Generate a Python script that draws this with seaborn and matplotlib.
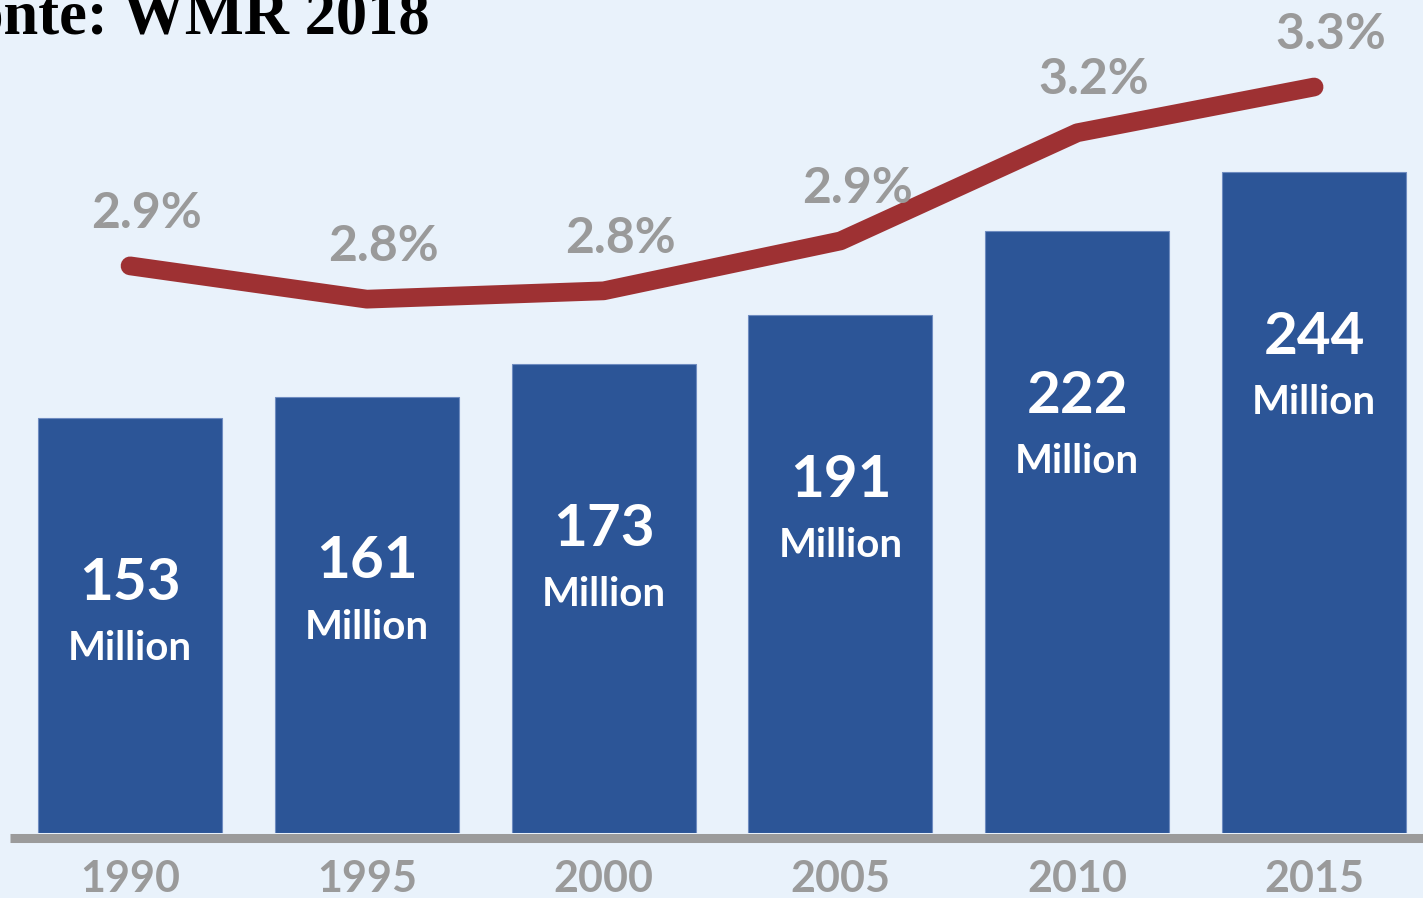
import numpy as np
import pandas as pd
import matplotlib
matplotlib.use("Agg")
import matplotlib.pyplot as plt
from matplotlib.transforms import offset_copy
import seaborn as sns

# International migrants (millions) and share of world population (%)
years = ["1990", "1995", "2000", "2005", "2010", "2015"]
migrants = [153, 161, 173, 191, 222, 244]
share_pct = [2.87, 2.79, 2.81, 2.93, 3.19, 3.30]
unit_label = "Million"
source_note = "Fonte: WMR 2018"

bg = "#E9F2FB"
bar_color = "#2C5597"
bar_edge = "#6F8CC0"
line_color = "#9E3133"
label_gray = "#9A9A9A"
axis_gray = "#9B9B9B"

sns.set_theme(style="white")
plt.rcParams["font.family"] = ["Lato", "DejaVu Sans"]

W, H = 1423, 898
fig = plt.figure(figsize=(W / 100, H / 100), dpi=100)
fig.patch.set_facecolor(bg)

base_px = 833
ax = fig.add_axes([10 / W, (H - base_px) / H, (W - 10) / W, base_px / H])
ax.set_facecolor(bg)

df = pd.DataFrame({"year": years, "migrants": migrants, "share": share_pct})

sns.barplot(data=df, x="year", y="migrants", color=bar_color, saturation=1,
            width=0.777, ax=ax, zorder=2, edgecolor=bar_edge, linewidth=0.8)

ax.set_xlim(-0.507, 5.46)
ax.set_ylim(0, base_px / 2.71)

# baseline rule sitting just under the bars
ax.plot([0, 1], [0, 0], color=axis_gray, lw=6.5, solid_capstyle="butt",
        transform=offset_copy(ax.transAxes, fig=fig, y=-4.5, units="dots"),
        clip_on=False, zorder=3)

for i, v in enumerate(migrants):
    ax.annotate(f"{v}", xy=(i, v), xytext=(0, -119), textcoords="offset points",
                ha="center", va="center", color="white", fontsize=42,
                fontweight="bold", zorder=4)
    ax.annotate(unit_label, xy=(i, v), xytext=(0, -166), textcoords="offset points",
                ha="center", va="center", color="white", fontsize=29,
                fontweight="bold", zorder=4)

ax.set_xticks(range(len(years)))
ax.set_xticklabels(years, fontsize=31, color=label_gray, fontweight="bold")
ax.tick_params(axis="x", length=0, pad=19)
ax.set_yticks([])
ax.set_xlabel("")
ax.set_ylabel("")
for s in ax.spines.values():
    s.set_visible(False)

# share of world population on a secondary scale
ax2 = ax.twinx()
ax2.patch.set_visible(False)
sns.lineplot(x=np.arange(len(years)), y=share_pct, ax=ax2, color=line_color,
             linewidth=13.5, solid_capstyle="round", solid_joinstyle="round")
ax2.set_ylim(2.8 - 538 / 416, 2.8 + 295 / 416)
ax2.set_xlim(-0.507, 5.46)
ax2.set_yticks([])
ax2.set_ylabel("")
for s in ax2.spines.values():
    s.set_visible(False)

for i, v in enumerate(share_pct):
    ax2.annotate(f"{v:.1f}%", xy=(i, v), xytext=(12, 38), textcoords="offset points",
                 ha="center", va="center", color=label_gray, fontsize=36,
                 fontweight="bold")

fig.text(430 / W, 1 - 33 / H, source_note, ha="right", va="baseline",
         fontsize=45, fontweight="bold", family=["Liberation Serif", "DejaVu Serif"],
         color="black")

fig.savefig("out.png", dpi=100, facecolor=bg)
